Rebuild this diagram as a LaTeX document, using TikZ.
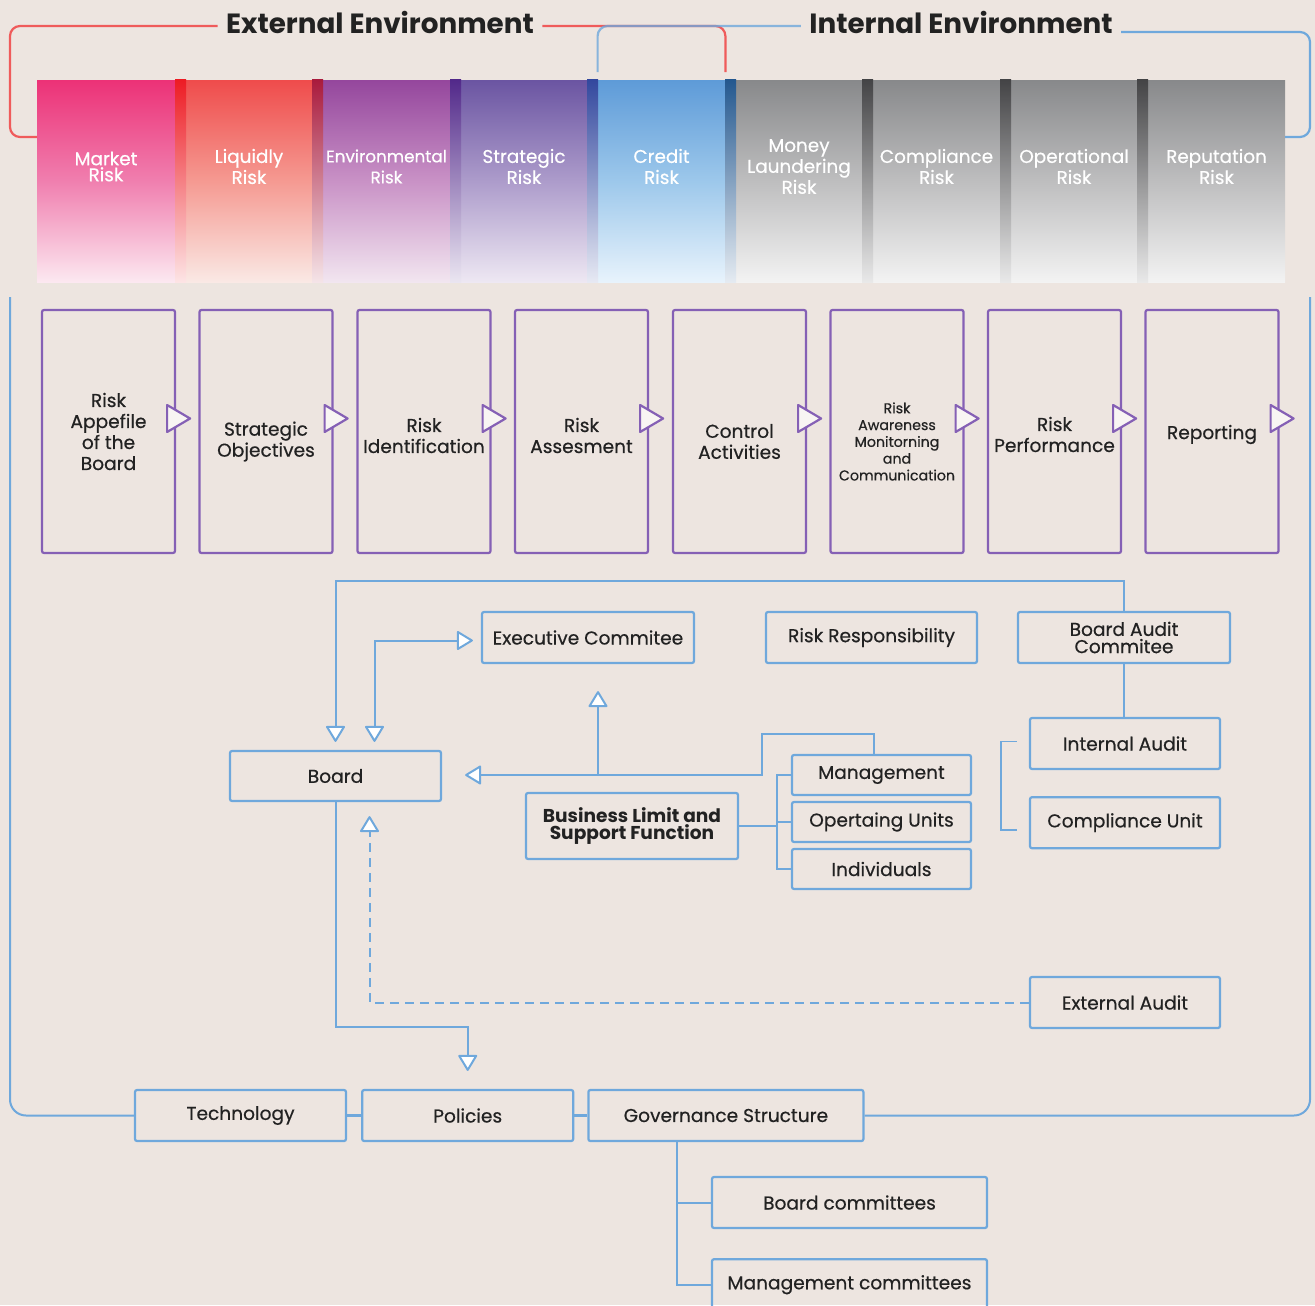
\documentclass[tikz,border=0pt]{standalone}
\usepackage{fontspec}
\setmainfont{Poppins}[UprightFeatures={FakeBold=0.5}]
\usetikzlibrary{positioning,arrows.meta,calc}

\definecolor{paper}{HTML}{EDE5E0}
\definecolor{ink}{HTML}{222222}
\definecolor{lineblue}{HTML}{6FA8DC}
\definecolor{stepviolet}{HTML}{8560B5}
\definecolor{extred}{HTML}{EF5B5B}
\definecolor{mktTop}{HTML}{EC3277}\definecolor{mktMid}{HTML}{F07FAF}\definecolor{mktBot}{HTML}{FCE9F1}
\definecolor{liqTop}{HTML}{EF4C4C}\definecolor{liqMid}{HTML}{F59A92}\definecolor{liqBot}{HTML}{FAE9E5}
\definecolor{envTop}{HTML}{95479D}\definecolor{envMid}{HTML}{C992C6}\definecolor{envBot}{HTML}{F2E6F0}
\definecolor{strTop}{HTML}{6B55A2}\definecolor{strMid}{HTML}{AD9CCB}\definecolor{strBot}{HTML}{EEE8F3}
\definecolor{crdTop}{HTML}{5E9BD8}\definecolor{crdMid}{HTML}{9DC8EB}\definecolor{crdBot}{HTML}{E8F3FC}
\definecolor{grTop}{HTML}{88898B}\definecolor{grMid}{HTML}{BEBEBF}\definecolor{grBot}{HTML}{F3F3F3}
\definecolor{gapA}{HTML}{ED1C24}
\definecolor{gapB}{HTML}{A91B3D}
\definecolor{gapC}{HTML}{52298A}
\definecolor{gapD}{HTML}{33489E}
\definecolor{gapE}{HTML}{24588F}
\definecolor{gapF}{HTML}{444446}

\tikzset{
  riskbar/.style={rectangle, inner sep=0pt, minimum height=101pt},
  risktext/.style={text=white, align=center, inner sep=0pt, font=\fontsize{9.2}{10.5}\selectfont},
  heading/.style={text=ink, inner sep=1pt, font=\fontsize{13.9}{14}\selectfont\bfseries},
  stepbox/.style={draw=stepviolet, line width=1.1pt, rounded corners=1pt, minimum width=66.5pt,
    minimum height=121.5pt, inner sep=0pt},
  steptext/.style={align=center, inner sep=0pt, text=ink, font=\fontsize{9.3}{10.5}\selectfont},
  steptip/.style={draw=stepviolet, fill=paper!40!white, line width=1.1pt, line join=round},
  unitbox/.style={draw=lineblue, line width=1.1pt, rounded corners=1pt, minimum height=25.5pt,
    inner sep=1pt, align=center, text=ink, font=\fontsize{9.3}{8.6}\selectfont},
  link/.style={draw=lineblue, line width=1pt},
  thinlink/.style={draw=lineblue, line width=0.9pt},
  linkhead/.style={-{Triangle[length=8.5pt,width=10pt,fill=white,line join=round]}, shorten >=4pt},
  twohead/.style={{Triangle[length=8.5pt,width=10pt,fill=white,line join=round]}-{Triangle[length=8.5pt,width=10pt,fill=white,line join=round]},
    shorten <=4pt, shorten >=4pt},
}

\begin{document}
\begin{tikzpicture}[x=0.5pt,y=-0.5pt]
\fill[paper] (0,0) rectangle (1315,1305);
\useasboundingbox (0,0) rectangle (1315,1305);
\clip (0,0) rectangle (1315,1305);

\def\riskbar#1#2#3#4#5{
\node[riskbar, minimum width=#3, top color=#4Top, bottom color=#4Bot, middle color=#4Mid] (#1) at (#2,181.5) {};
\node[risktext] at ([yshift=7.5pt]#1.center) {#5};
}
\def\riskgap#1#2{\shade[top color=#2, bottom color=#2!12!white] (#1,80) rectangle +(11,202);}

\riskbar{mkt}{106}{69pt}{mkt}{Market\\[-2.5pt]Risk}
\riskbar{liq}{249}{63pt}{liq}{Liquidly\\Risk}
\riskbar{env}{386.5}{63.5pt}{env}{\fontsize{8.4}{9.5}\selectfont Environmental\\\fontsize{8.4}{9.5}\selectfont Risk}
\riskbar{str}{524}{63pt}{str}{Strategic\\Risk}
\riskbar{crd}{661.5}{63.5pt}{crd}{Credit\\Risk}
\riskbar{mly}{799}{63pt}{gr}{Money\\Laundering\\Risk}
\riskbar{cmp}{936.5}{63.5pt}{gr}{Compliance\\Risk}
\riskbar{opr}{1074}{63pt}{gr}{Operational\\Risk}
\riskbar{rep}{1216.5}{68.5pt}{gr}{Reputation\\Risk}
\riskgap{175}{gapA}
\riskgap{312}{gapB}
\riskgap{450}{gapC}
\riskgap{587}{gapD}
\riskgap{725}{gapE}
\riskgap{862}{gapF}
\riskgap{1000}{gapF}
\riskgap{1137}{gapF}

\node[heading] (extlabel) at (380,22) {External Environment};
\node[heading] (intlabel) at (961,22) {Internal Environment};
\coordinate (extfoot) at (37,137);
\coordinate (intfoot) at (1285,137);
\draw[extred, line width=1.1pt, rounded corners=5pt] ([shift={(-3pt,-2pt)}]extlabel.west) -| (10,137) -- (extfoot);
\draw[extred, line width=1.1pt, rounded corners=5pt] ([shift={(3pt,-2pt)}]extlabel.east) -| ([yshift=4pt]crd.north east);
\draw[lineblue, opacity=.8, line width=1.1pt, rounded corners=5pt] ([yshift=4pt]crd.north west) |- ([shift={(-3pt,-2pt)}]intlabel.west);
\draw[lineblue, line width=1.1pt, rounded corners=5pt] ([shift={(3pt,-5pt)}]intlabel.east) -| (1310,137) -- (intfoot);

\def\stage#1#2#3#4#5{
\node[stepbox] (#1) at (#2,431.5) {};
\node[steptext, #4] at ([yshift=#3]#1.center) {#5};
\draw[steptip] ($(#1.east)+(-9,-26.5)$) -- ++(23,13.5) -- ++(-23,13.5) -- cycle;
}
\stage{appetite}{108.5}{0pt}{}{Risk\\Appefile\\of the\\Board}
\stage{objectives}{266}{-5pt}{}{Strategic\\Objectives}
\stage{identify}{424}{-2pt}{}{Risk\\Identification}
\stage{assess}{581.5}{-2pt}{}{Risk\\Assesment}
\stage{control}{739.5}{-5pt}{}{Control\\Activities}
\stage{aware}{897}{-5pt}{font=\fontsize{7.1}{8.4}\selectfont}{Risk\\Awareness\\Monitorning\\and\\Communication}
\stage{perform}{1054.5}{-1.5pt}{}{Risk\\Performance}
\stage{report}{1212}{-1.5pt}{}{Reporting}

\node[unitbox, minimum width=106pt] (exec) at (588,637.5) {Executive Commitee};
\node[unitbox, minimum width=105.5pt] (riskresp) at (871.5,637.5) {Risk Responsibility};
\node[unitbox, minimum width=106pt] (bac) at (1124,637.5) {Board Audit\\Commitee};
\node[unitbox, minimum width=105.5pt, minimum height=25pt] (board) at (335.5,776) {Board};
\node[unitbox, minimum width=95pt] (intaudit) at (1125,743.5) {Internal Audit};
\node[unitbox, minimum width=95pt, below=13pt of intaudit] (compunit) {Compliance Unit};
\node[unitbox, minimum width=106pt, minimum height=33pt, font=\fontsize{9.3}{8.6}\selectfont\bfseries] (blsf) at (632,826) {Business Limit and\\Support Function};
\node[unitbox, minimum width=89.5pt, minimum height=20pt] (mgmt) at (881.5,775) {Management};
\node[unitbox, minimum width=89.5pt, minimum height=20pt] (units) at (881.5,822) {Opertaing Units};
\node[unitbox, minimum width=89.5pt, minimum height=20pt] (indiv) at (881.5,869) {Individuals};
\node[unitbox, minimum width=95pt] (extaudit) at (1125,1002.5) {External Audit};
\node[unitbox, minimum width=105.5pt] (tech) at (240.5,1115.5) {Technology};
\node[unitbox, minimum width=105.5pt, right=7pt of tech] (policies) {Policies};
\node[unitbox, minimum width=137.5pt, right=6.5pt of policies] (gov) {Governance Structure};
\node[unitbox, minimum width=137.5pt] (boardcom) at (849.5,1202.5) {Board committees};
\node[unitbox, minimum width=137.5pt, below=14.5pt of boardcom] (mgmtcom) {Management committees};

\coordinate (split) at (762,775);
\coordinate (hub) at (598,775);
\coordinate (fork) at (777,822);
\coordinate (govroot) at ($(gov.south west)+(90,0)$);

\draw[link, linkhead] (bac.north) -- ++(0,-30) -| (board.north);
\draw[link, twohead] ($(board.north)+(39,0)$) |- ([yshift=-1.5pt]exec.west);
\draw[link, linkhead, shorten >=11.5pt] ([xshift=-4pt]mgmt.north) -- ++(0,-20) -| (split) -- (split -| board.east);
\draw[link, linkhead, shorten >=13.5pt] (hub) -- (hub |- exec.south);
\draw[link, line width=1.4pt] (blsf.east) -- (blsf.east -| fork);
\draw[link] (mgmt.west) -| (fork) |- (indiv.west);
\draw[link] (fork) -- (units.west);
\draw[link] (bac.south) -- (bac.south |- intaudit.north);
\draw[thinlink] ([xshift=-6pt,yshift=1pt]intaudit.west) -- ++(-16,0) |- ([xshift=-6pt,yshift=-3.5pt]compunit.west);
\draw[link, linkhead, dash pattern=on 4.5pt off 3pt, shorten >=7pt] (extaudit.west) -| ($(board.south)+(34,0)$);
\draw[link, linkhead, shorten >=9pt] (board.south) -- ++(0,225) -| (policies.north);

\draw[link, line width=1.6pt] (tech.east) -- (policies.west);
\draw[link, line width=1.6pt] (policies.east) -- (gov.west);
\draw[link, rounded corners=8pt] (10,297) |- (tech.west);
\draw[link, rounded corners=8pt] (1310,297) |- (gov.east);
\draw[link] (govroot) |- (boardcom.west);
\draw[link] (govroot) |- (mgmtcom.west);
\end{tikzpicture}
\end{document}
